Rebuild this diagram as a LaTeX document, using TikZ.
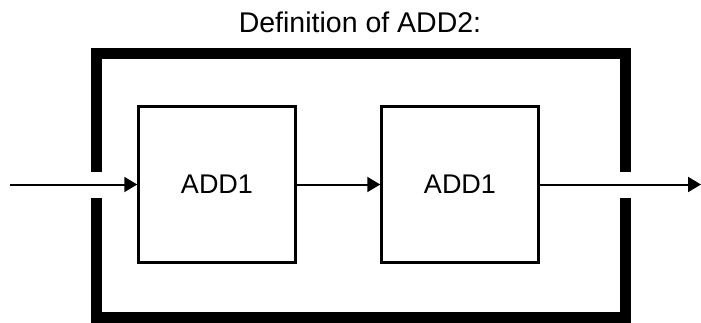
\documentclass[tikz,border=0pt]{standalone}
\usepackage{fontspec}
\setmainfont{Liberation Sans}
\usepackage{tikz}
\usetikzlibrary{positioning,arrows.meta}

\begin{document}
\begin{tikzpicture}[x=1pt, y=-1pt,
	block/.style={draw, line width=2.5pt, minimum width=157pt, minimum height=156pt, inner sep=0pt, font=\fontsize{27}{32}\selectfont},
	wire/.style={line width=2pt, -{Triangle[length=13pt, width=15pt]}},
	frame/.style={line width=11pt, line join=miter}]
\useasboundingbox (0,0) rectangle (701,322);
\node (title) at (360,22) {\fontsize{28.5}{32}\selectfont Definition of ADD2:};
\draw [frame] (96,171.7) -- (96,53) -- (625,53) -- (625,171.7);
\draw [frame] (96,198.3) -- (96,317) -- (625,317) -- (625,198.3);
\node [block] (add1a) at (217,184.5) {ADD1};
\node [block] (add1b) at (460,184.5) {ADD1};
\coordinate (in) at (10,184.5);
\coordinate (out) at (701,184.5);
\draw [wire] (in) -- (add1a.west);
\draw [wire] (add1a.east) -- (add1b.west);
\draw [wire] (add1b.east) -- (out);
\end{tikzpicture}
\end{document}
